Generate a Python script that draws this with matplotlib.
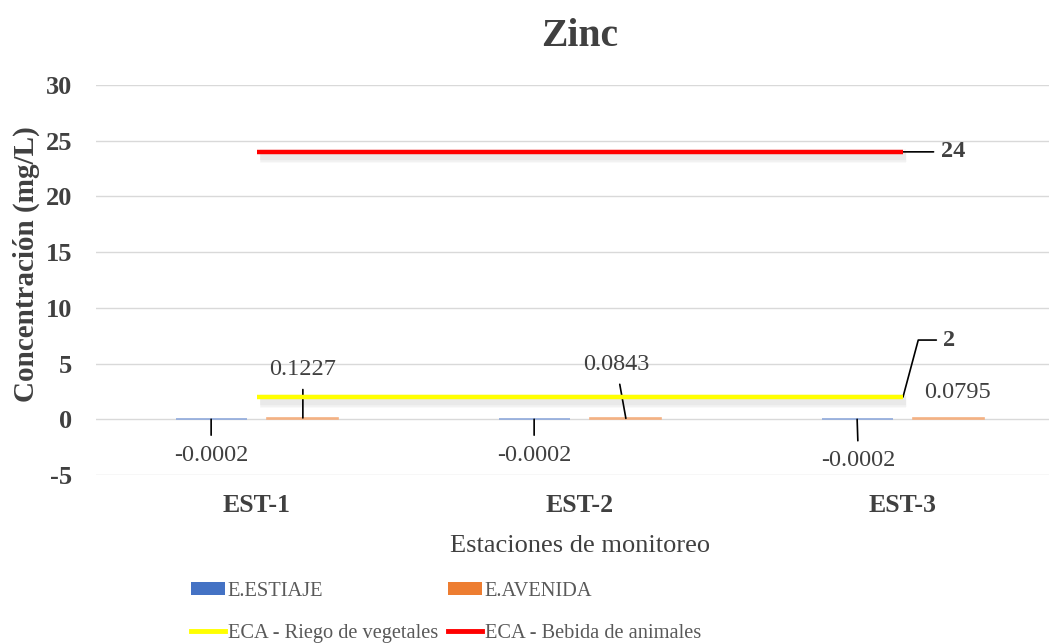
import numpy as np
import matplotlib
matplotlib.use("Agg")
import matplotlib.pyplot as plt
import matplotlib.transforms as mtransforms
from matplotlib.patches import Patch
from matplotlib.lines import Line2D

# datos
estaciones = ["EST-1", "EST-2", "EST-3"]
estiaje = [-0.0002, -0.0002, -0.0002]
avenida = [0.1227, 0.0843, 0.0795]
eca_riego = [2, 2, 2]
eca_bebida = [24, 24, 24]

C_BLUE = "#4472c4"
C_ORANGE = "#ed7d31"
C_YEL = "#ffff00"
C_RED = "#ff0000"
TXT = "#404040"

plt.rcParams["font.family"] = "Liberation Serif"
plt.rcParams["axes.unicode_minus"] = False

fig = plt.figure(figsize=(10.49, 6.44), dpi=100)
ax = fig.add_axes([95.5 / 1049, 169 / 644, 969 / 1049, 390 / 644])

x = np.arange(len(estaciones))
w = 0.22
off = 0.142

ax.bar(x - off, estiaje, w, color=C_BLUE, edgecolor="#8faadc", linewidth=1.2, zorder=3)
ax.bar(x + off, avenida, w, color=C_ORANGE, edgecolor="#f4b183", linewidth=1.2, zorder=3)

# sombra de las lineas
sombra = ax.transData + mtransforms.ScaledTranslation(2 / 72, -3 / 72, fig.dpi_scale_trans)
for lw, a in [(10, 0.04), (8, 0.06), (6, 0.08)]:
    ax.plot(x, eca_riego, color="gray", lw=lw, alpha=a, zorder=3, transform=sombra,
            solid_capstyle="butt")
    ax.plot(x, eca_bebida, color="gray", lw=lw, alpha=a, zorder=3, transform=sombra,
            solid_capstyle="butt")
ax.plot(x, eca_riego, color=C_YEL, lw=3.2, zorder=4, solid_capstyle="butt")
ax.plot(x, eca_bebida, color=C_RED, lw=3.2, zorder=4, solid_capstyle="butt")

ax.set_ylim(-5, 30)
ax.set_xlim(-0.5, 2.5)
ax.set_yticks(np.arange(-5, 31, 5))
ax.set_xticks(x)
ax.set_xticklabels(estaciones)
ax.grid(axis="y", color="#d9d9d9", lw=1, zorder=0)
ax.set_axisbelow(True)
for s in ax.spines.values():
    s.set_visible(False)
ax.tick_params(length=0, colors=TXT)
ax.tick_params(axis="y", labelsize=19, pad=17)
ax.tick_params(axis="x", labelsize=18.5, pad=14)
for t in ax.get_xticklabels() + ax.get_yticklabels():
    t.set_fontweight("bold")

ax.set_title("Zinc", fontsize=28.5, fontweight="bold", color=TXT, pad=28)
ax.set_ylabel("Concentración (mg/L)", fontsize=21, fontweight="bold", color=TXT)
ax.yaxis.set_label_coords(-0.057, 0.54)
ax.set_xlabel("Estaciones de monitoreo", fontsize=19, color=TXT, labelpad=13)

lbl = dict(fontsize=17.5, color=TXT, ha="center", va="center")
arr = dict(arrowstyle="-", color="black", lw=1.2, shrinkA=5, shrinkB=0)

# etiquetas de barras (desplazamientos en puntos)
est_off = [(0, -26), (0, -26), (1, -30)]
ave_off = [(0, 35), (-7, 39), (6, 19)]
for i in range(len(estaciones)):
    ax.annotate(f"{estiaje[i]:.4f}", xy=(x[i] - off, estiaje[i]), xytext=est_off[i],
                textcoords="offset points", arrowprops=arr, **lbl)
    ax.annotate(f"{avenida[i]:.4f}", xy=(x[i] + off, avenida[i]), xytext=ave_off[i],
                textcoords="offset points",
                arrowprops=None if i == 2 else arr, **lbl)

# etiquetas ECA
ax.annotate(f"{eca_bebida[-1]}", xy=(x[-1], eca_bebida[-1]), xytext=(27, 0),
            textcoords="offset points", fontsize=17.5, fontweight="bold", color=TXT,
            ha="left", va="center",
            arrowprops=dict(arrowstyle="-", color="black", lw=1.2, shrinkA=3, shrinkB=0))
ax.annotate(f"{eca_riego[-1]}", xy=(x[-1], eca_riego[-1]), xytext=(29, 41),
            textcoords="offset points", fontsize=17.5, fontweight="bold", color=TXT,
            ha="left", va="center",
            arrowprops=dict(arrowstyle="-", color="black", lw=1.2, shrinkA=3, shrinkB=0,
                            connectionstyle="angle,angleA=0,angleB=75,rad=0"))

handles = [Patch(facecolor=C_BLUE, edgecolor="none"),
           Line2D([], [], color=C_YEL, lw=3.5),
           Patch(facecolor=C_ORANGE, edgecolor="none"),
           Line2D([], [], color=C_RED, lw=3.5)]
labels = ["E.ESTIAJE", "ECA - Riego de vegetales", "E.AVENIDA", "ECA - Bebida de animales"]
leg = fig.legend(handles, labels, ncol=2, loc="upper left", bbox_to_anchor=(0.182, 0.097),
                 frameon=False, fontsize=14.7, handlelength=1.65, handleheight=0.6,
                 handletextpad=0.15, columnspacing=0.5, labelspacing=1.15, borderpad=0,
                 borderaxespad=0)
for t in leg.get_texts():
    t.set_color("#595959")

fig.savefig("out.png", dpi=100)
